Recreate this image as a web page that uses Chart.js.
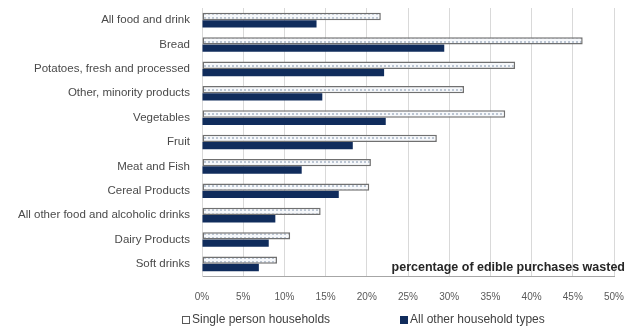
<!DOCTYPE html>
<html>
<head>
<meta charset="utf-8">
<script src="https://cdn.jsdelivr.net/npm/chart.js@4.4.1/dist/chart.umd.min.js"></script>
<style>
  html, body { margin: 0; padding: 0; background: #fff; }
  #wrap { width: 630px; height: 327px; }
</style>
</head>
<body>
<div id="wrap"><canvas id="chart"></canvas></div>
<script>
// Data
const categories = [
    'All food and drink',
    'Bread',
    'Potatoes, fresh and processed',
    'Other, minority products',
    'Vegetables',
    'Fruit',
    'Meat and Fish',
    'Cereal Products',
    'All other food and alcoholic drinks',
    'Dairy Products',
    'Soft drinks'
];
const singlePerson = [21.7, 46.2, 38.0, 31.8, 36.8, 28.5, 20.5, 20.3, 14.4, 10.7, 9.1];
const otherHouseholds = [13.9, 29.4, 22.1, 14.6, 22.3, 18.3, 12.1, 16.6, 8.9, 8.1, 6.9];
const xTickValues = [0, 5, 10, 15, 20, 25, 30, 35, 40, 45, 50];
const seriesNames = ['Single person households', 'All other household types'];
const axisTitle = 'percentage of edible purchases wasted';

const navy = '#102c5c';
const FONT = "'Liberation Sans', Arial, sans-serif";

// light striped fill for the single person bars
function stripePattern() {
    const c = document.createElement('canvas');
    c.width = 4; c.height = 4;
    const g = c.getContext('2d');
    g.fillStyle = '#f6f8fb';
    g.fillRect(0, 0, 4, 4);
    g.fillStyle = '#bcc6d3';
    g.fillRect(0, 1, 2, 2);
    return g.createPattern(c, 'repeat');
}

// Axis caption drawn inside the plot, bottom right
const captionPlugin = {
    id: 'caption',
    afterDraw(chart) {
        const { ctx, chartArea } = chart;
        ctx.save();
        ctx.font = 'bold 12.5px ' + FONT;
        ctx.fillStyle = '#262626';
        ctx.textAlign = 'right';
        ctx.textBaseline = 'alphabetic';
        ctx.fillText(axisTitle, chartArea.right + 11, chartArea.bottom - 5);
        ctx.restore();
    }
};

// Legend drawn under the tick labels
const legendPlugin = {
    id: 'bottomLegend',
    afterDraw(chart) {
        const { ctx } = chart;
        const y = 320;
        const items = [
            { x: 182, fill: '#ffffff', stroke: '#595959', text: seriesNames[0] },
            { x: 400, fill: navy, stroke: navy, text: seriesNames[1] }
        ];
        ctx.save();
        ctx.font = '12px ' + FONT;
        ctx.textBaseline = 'middle';
        ctx.textAlign = 'left';
        items.forEach(it => {
            ctx.fillStyle = it.fill;
            ctx.fillRect(it.x, y - 4, 8, 8);
            ctx.strokeStyle = it.stroke;
            ctx.lineWidth = 1;
            ctx.strokeRect(it.x + 0.5, y - 3.5, 7, 7);
            ctx.fillStyle = '#404040';
            ctx.fillText(it.text, it.x + 10, y);
        });
        ctx.restore();
    }
};

new Chart(document.getElementById('chart'), {
    type: 'bar',
    data: {
        labels: categories,
        datasets: [
            {
                label: seriesNames[0],
                data: singlePerson,
                backgroundColor: stripePattern(),
                borderColor: '#707070',
                borderWidth: 1.5,
                borderSkipped: false,
                categoryPercentage: 0.6,
                barPercentage: 1
            },
            {
                label: seriesNames[1],
                data: otherHouseholds,
                backgroundColor: navy,
                borderWidth: 0,
                categoryPercentage: 0.6,
                barPercentage: 1
            }
        ]
    },
    options: {
        indexAxis: 'y',
        responsive: true,
        maintainAspectRatio: false,
        animation: false,
        layout: { padding: { top: 8, right: 16, bottom: 22, left: 0 } },
        plugins: {
            legend: { display: false },
            tooltip: { enabled: false }
        },
        scales: {
            x: {
                min: 0,
                max: 50,
                afterBuildTicks: (scale) => {
                    scale.ticks = xTickValues.map(v => ({ value: v }));
                },
                afterFit: (scale) => {
                    scale.height = 29;
                    scale.paddingLeft = 0;
                    scale.paddingRight = 0;
                },
                ticks: {
                    callback: (v) => v + '%',
                    color: '#595959',
                    font: { family: FONT, size: 10 },
                    padding: 15,
                    maxRotation: 0
                },
                grid: { color: '#d9d9d9', drawTicks: false },
                border: { color: '#a6a6a6', width: 1 }
            },
            y: {
                afterFit: (scale) => {
                    scale.width = 202;
                    scale.paddingTop = 0;
                    scale.paddingBottom = 0;
                },
                ticks: {
                    color: '#4a4a4a',
                    font: { family: FONT, size: 11.5 },
                    padding: 12,
                    autoSkip: false
                },
                grid: { display: false, drawTicks: false },
                border: { color: '#d9d9d9' }
            }
        }
    },
    plugins: [captionPlugin, legendPlugin]
});
</script>
</body>
</html>
